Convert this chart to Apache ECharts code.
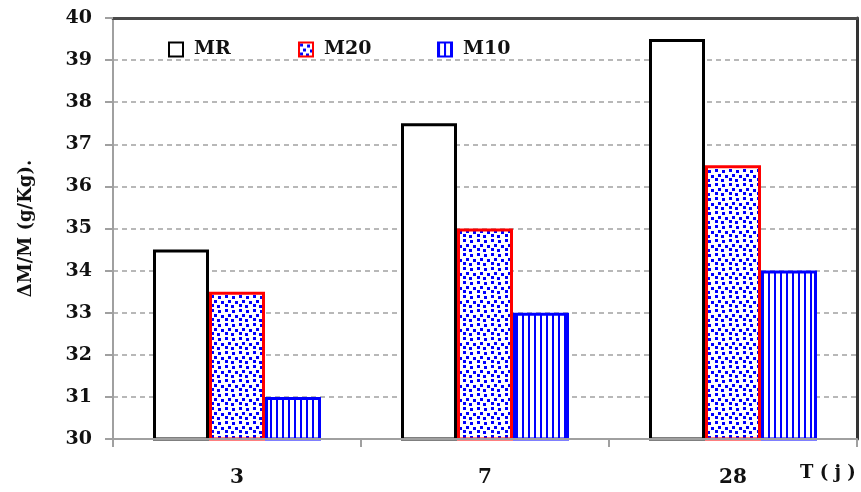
<!DOCTYPE html>
<html>
<head>
<meta charset="utf-8">
<script src="https://cdn.jsdelivr.net/npm/echarts@6/dist/echarts.min.js"></script>
<style>
  html, body { margin: 0; padding: 0; background: #fff; }
  #chart { width: 861px; height: 492px; }
</style>
</head>
<body>
<div id="chart"></div>
<script>
// Curing age (days) and mass gain per mix
const categories = ['3', '7', '28'];
const seriesNames = ['MR', 'M20', 'M10'];
const mrValues = [34.5, 37.5, 39.5];
const m20Values = [33.5, 35, 36.5];
const m10Values = [31, 33, 34];
const yTicks = { min: 30, max: 40, step: 1 };

const serif = "'DejaVu Serif', 'Liberation Serif', serif";

// Dotted fill: blue specks on white
function dotPattern() {
  const c = document.createElement('canvas');
  c.width = 14; c.height = 14;
  const g = c.getContext('2d');
  g.fillStyle = '#ffffff';
  g.fillRect(0, 0, 14, 14);
  g.fillStyle = '#0000ff';
  [[1, 1], [8, 2], [4, 6], [11, 7], [1, 10], [7, 11]].forEach(p => g.fillRect(p[0], p[1], 3, 3));
  return { image: c, repeat: 'repeat' };
}

// Vertical hatching: blue stripes on white
function stripePattern() {
  const c = document.createElement('canvas');
  c.width = 6; c.height = 6;
  const g = c.getContext('2d');
  g.fillStyle = '#ffffff';
  g.fillRect(0, 0, 6, 6);
  g.fillStyle = '#0000ff';
  g.fillRect(0, 0, 2, 6);
  return { image: c, repeat: 'repeat' };
}

const chart = echarts.init(document.getElementById('chart'));

const barBase = { type: 'bar', barWidth: 56, barGap: '0%', xAxisIndex: 0, yAxisIndex: 0 };

const legendText = { fontFamily: serif, fontWeight: 'bold', fontSize: 19, color: '#111', padding: [0, 0, 0, 6] };
function legendAt(left, name) {
  return {
    left: left, top: 35,
    itemWidth: 14, itemHeight: 14,
    icon: 'rect',
    textStyle: legendText,
    data: [name]
  };
}

chart.setOption({
  animation: false,
  backgroundColor: '#ffffff',
  grid: { left: 113, right: 4, top: 18, bottom: 53 },
  legend: [
    legendAt(163, seriesNames[0]),
    legendAt(293, seriesNames[1]),
    legendAt(432, seriesNames[2])
  ],
  xAxis: [{
    type: 'category',
    data: categories,
    z: 5,
    axisLine: { lineStyle: { color: '#a0a0a0', width: 2 } },
    axisTick: { show: true, length: 8, lineStyle: { color: '#a0a0a0', width: 2 } },
    axisLabel: { margin: 29, fontFamily: serif, fontWeight: 'bold', fontSize: 20, color: '#111' }
  }, {
    type: 'category',
    data: categories,
    position: 'top',
    axisLine: { lineStyle: { color: '#4a4a4a', width: 3 } },
    axisTick: { show: false },
    axisLabel: { show: false }
  }],
  yAxis: [{
    type: 'value',
    min: yTicks.min, max: yTicks.max, interval: yTicks.step,
    name: 'ΔM/M (g/Kg).',
    nameLocation: 'middle',
    nameGap: 78,
    nameTextStyle: { fontFamily: serif, fontWeight: 'bold', fontSize: 18, color: '#111' },
    axisLine: { show: true, lineStyle: { color: '#a0a0a0', width: 2 } },
    axisTick: { show: true, length: 8, lineStyle: { color: '#a0a0a0', width: 2 } },
    axisLabel: { margin: 21, fontFamily: serif, fontWeight: 'bold', fontSize: 19, color: '#111' },
    splitLine: { show: true, lineStyle: { color: '#b8b8b8', width: 2, type: [5, 4] } }
  }, {
    type: 'value',
    min: yTicks.min, max: yTicks.max, interval: yTicks.step,
    position: 'right',
    axisLine: { show: true, lineStyle: { color: '#333', width: 3 } },
    axisTick: { show: false },
    axisLabel: { show: false },
    splitLine: { show: false }
  }],
  graphic: [{
    type: 'text',
    left: 800, top: 464,
    style: { text: 'T ( j )', fontFamily: serif, fontWeight: 'bold', fontSize: 18, fill: '#111' }
  }],
  series: [
    Object.assign({}, barBase, {
      name: seriesNames[0], data: mrValues,
      itemStyle: { color: '#ffffff', borderColor: '#000000', borderWidth: 3 }
    }),
    Object.assign({}, barBase, {
      name: seriesNames[1], data: m20Values,
      itemStyle: { color: dotPattern(), borderColor: '#ff0000', borderWidth: 3 }
    }),
    Object.assign({}, barBase, {
      name: seriesNames[2], data: m10Values,
      itemStyle: { color: stripePattern(), borderColor: '#0000ff', borderWidth: 3 }
    })
  ]
});
</script>
</body>
</html>
